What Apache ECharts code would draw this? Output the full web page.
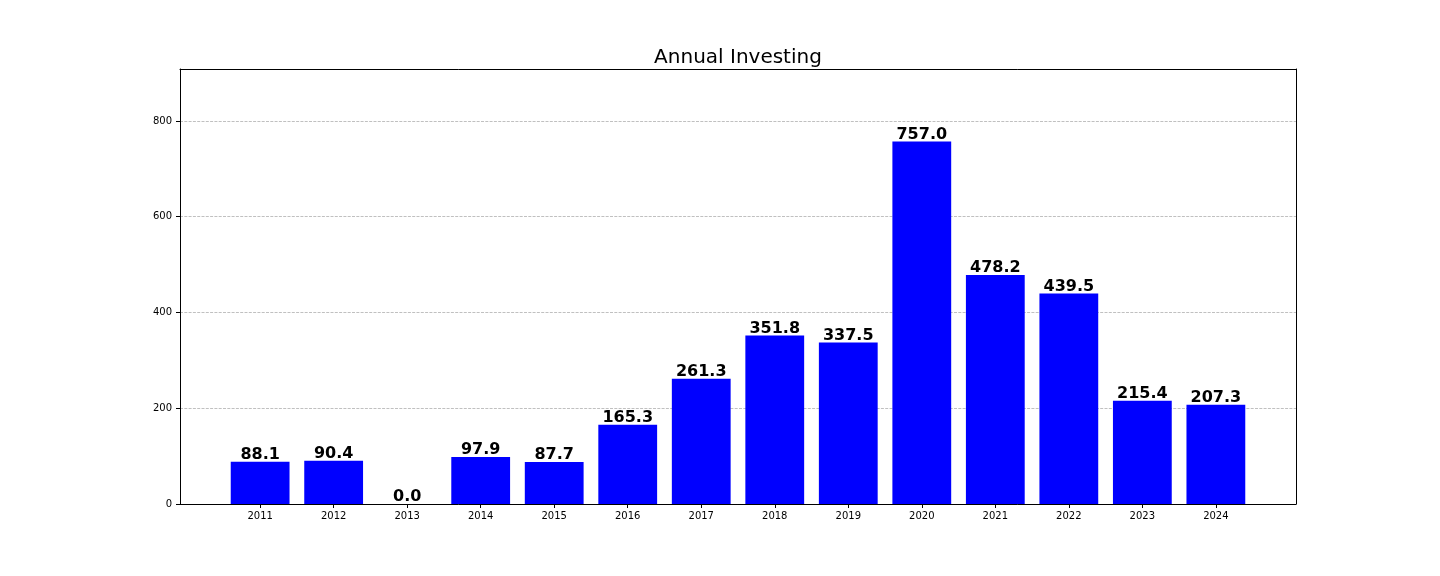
<!DOCTYPE html>
<html>
<head>
<meta charset="utf-8">
<script src="https://cdn.jsdelivr.net/npm/echarts@6/dist/echarts.min.js"></script>
<style>html,body{margin:0;padding:0;background:#fff;}#chart{width:1440px;height:576px;}</style>
</head>
<body>
<div id="chart"></div>
<script>
const years = ['2011','2012','2013','2014','2015','2016','2017','2018','2019','2020','2021','2022','2023','2024'];
const investing = [88.1, 90.4, 0.0, 97.9, 87.7, 165.3, 261.3, 351.8, 337.5, 757.0, 478.2, 439.5, 215.4, 207.3];
const yTicks = [0, 200, 400, 600, 800];
const chartTitle = 'Annual Investing';

const font = 'DejaVu Sans';
const idx = years.map((_, i) => i);
const n = years.length;
const xMin = -0.4 - 0.05 * (n - 1 + 0.8);
const xMax = n - 1 + 0.4 + 0.05 * (n - 1 + 0.8);
const yMax = Math.max(...investing) * 1.2;

const chart = echarts.init(document.getElementById('chart'));
chart.setOption({
  animation: false,
  backgroundColor: '#fff',
  title: {
    text: chartTitle,
    left: 738,
    top: 48,
    padding: 0,
    textAlign: 'center',
    textStyle: { fontFamily: font, fontSize: 20, fontWeight: 'normal', color: '#000' }
  },
  grid: { left: 180, right: 144, top: 69, bottom: 72, containLabel: false },
  xAxis: [{
    type: 'value',
    min: xMin, max: xMax,
    axisLine: { show: true, onZero: false, lineStyle: { color: '#000', width: 1 } },
    axisTick: { show: true, customValues: idx, length: 4, lineStyle: { color: '#000' } },
    axisLabel: { customValues: idx, formatter: v => years[Math.round(v)], fontFamily: font, fontSize: 10, color: '#000', margin: 7 },
    splitLine: { show: false }
  }, {
    type: 'value', position: 'top', min: xMin, max: xMax, z: 5,
    axisLine: { show: true, onZero: false, lineStyle: { color: '#000', width: 1 } },
    axisTick: { show: false }, axisLabel: { show: false }, splitLine: { show: false }
  }],
  yAxis: [{
    type: 'value',
    min: 0, max: yMax,
    axisLine: { show: true, onZero: false, lineStyle: { color: '#000', width: 1 } },
    axisTick: { show: true, customValues: yTicks, length: 4, lineStyle: { color: '#000' } },
    axisLabel: { customValues: yTicks, fontFamily: font, fontSize: 10, color: '#000', margin: 8 },
    splitLine: { show: true, lineStyle: { color: '#b0b0b0', width: 0.8, type: [3, 1.3] } }
  }, {
    type: 'value', position: 'right', min: 0, max: yMax, z: 5,
    axisLine: { show: true, onZero: false, lineStyle: { color: '#000', width: 1 } },
    axisTick: { show: false }, axisLabel: { show: false }, splitLine: { show: false }
  }],
  series: [{
    type: 'bar',
    xAxisIndex: 0, yAxisIndex: 0,
    barWidth: 58.8,
    data: idx.map(i => [i, investing[i]]),
    itemStyle: { color: '#0000ff' },
    label: {
      show: true, position: 'top', distance: -1,
      formatter: p => p.value[1].toFixed(1),
      fontFamily: font, fontSize: 16, fontWeight: 'bold', color: '#000'
    }
  }]
});
</script>
</body>
</html>
